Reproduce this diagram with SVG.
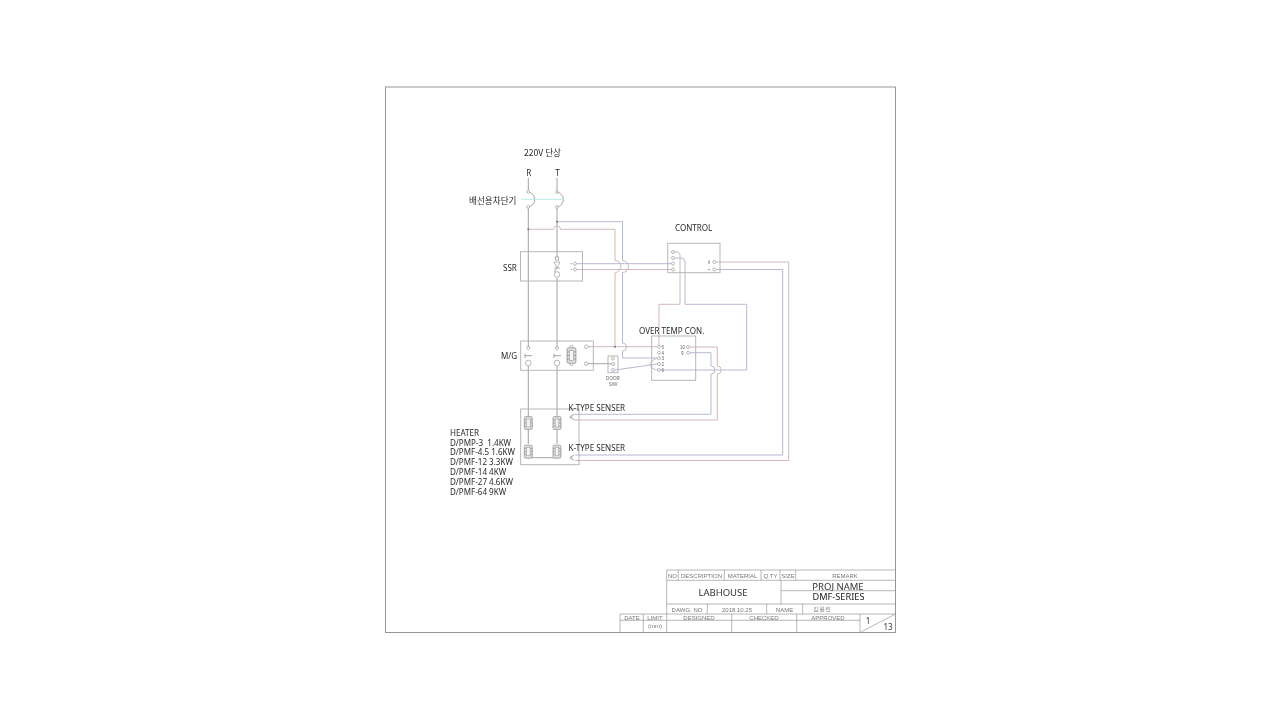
<svg xmlns="http://www.w3.org/2000/svg" width="1280" height="720" viewBox="0 0 1280 720">
<style>
text{font-family:"Noto Sans","Noto Sans CJK KR",sans-serif;fill:#2a2a2a;font-size:8.05px}
.k{font-family:"Noto Sans CJK KR","Noto Sans",sans-serif}
.box{fill:none;stroke:#b0b0b0;stroke-width:.9}
.w{fill:none;stroke:#999;stroke-width:.9}
.r{fill:none;stroke:#d0b0b0;stroke-width:.9}
.b{fill:none;stroke:#b0b0d0;stroke-width:.9}
.c{fill:none;stroke:#b4e6e2;stroke-width:.9}
.t{fill:#fff;stroke:#999;stroke-width:.7}
.tb{fill:none;stroke:#999;stroke-width:.7}
.s{font-size:6px;fill:#777;font-family:"Liberation Sans",sans-serif;text-anchor:middle}
.m{font-family:"Noto Sans",sans-serif;fill:#333;text-anchor:middle}
.n{font-size:4.6px;fill:#666;font-family:"Liberation Sans",sans-serif}
</style>
<defs>
<filter id="soft" filterUnits="userSpaceOnUse" x="0" y="0" width="1280" height="720"><feGaussianBlur stdDeviation="0.35"/></filter>
<g id="coil"><rect x="-4" y="-6.5" width="8" height="13" rx="1.5" fill="#ddd" stroke="#999" stroke-width=".8"/><path d="M-4-3h8M-4 0h8M-4 3h8" stroke="#888" stroke-width=".6" fill="none"/><rect x="-1.8" y="-4" width="3.6" height="8" fill="#f4f4f4" stroke="#999" stroke-width=".5"/></g>
</defs>
<rect width="1280" height="720" fill="#fff"/>
<g filter="url(#soft)">
<rect id="frame" x="385.5" y="87" width="510" height="545.5" fill="none" stroke="#8c8c8c" stroke-width=".9"/>
<g id="connectors">
<path class="w" d="M528.3 178V192A7.6 7.6 0 0 1 528.3 207V348M528.3 366V416M528.3 430V444M528.3 458V457.7H557"/>
<path class="w" d="M557 178V192A7.6 7.6 0 0 1 557 207V258M557 278V348M557 366V416M557 430V444"/>
<path class="c" d="M521 199.3H564"/>
<path class="r" d="M528.3 229.3H553.5A3.5 3.5 0 0 1 560.5 229.3H615V260.5A6 6 0 0 1 615 272.5V347"/>
<path class="b" d="M557 221.7H622.5V260.5A6 6 0 0 1 622.5 272.5V343A4 4 0 0 1 622.5 351V358H657"/>
<path class="b" d="M577 263.7H671"/>
<path class="r" d="M577 269.5H671"/>
<path class="r" d="M675 252H678L680 254V304.3H659V345"/>
<path class="b" d="M675 258H681Q685 258 685 262V304.3H746.7V370H661"/>
<path class="r" d="M716 262H788.7V460.5H575"/>
<path class="b" d="M716 269.5H782.7V455H575"/>
<path class="r" d="M588 346.7H657"/>
<path class="r" d="M690 347H717.3V366A4 4 0 0 1 717.3 374V420H574"/>
<path class="b" d="M690 352.7H711V366A4 4 0 0 1 711 374V414.3H574"/>
<path class="w" d="M588 363.7H611"/>
<path class="b" d="M615 370L657 364"/>
<path class="b" d="M657 358.3C648 361 648 368 657 370"/>
<circle cx="528.3" cy="229.3" r="1" fill="#777"/><circle cx="557" cy="221.7" r="1" fill="#777"/><circle cx="615" cy="346.7" r="1" fill="#777"/>
</g>
<g id="breaker"><circle class="t" cx="528.3" cy="192" r="1.4"/><circle class="t" cx="528.3" cy="207" r="1.4"/><circle class="t" cx="557" cy="192" r="1.4"/><circle class="t" cx="557" cy="207" r="1.4"/>
<text class="k" x="469" y="203.5" style="font-size:8.6px">배선용차단기</text></g>
<g id="supply"><text class="k" x="524" y="156" style="font-size:8.6px">220V 단상</text><text x="526.3" y="175.5">R</text><text x="555.3" y="175.5">T</text></g>
<g id="ssr"><rect class="box" x="520.5" y="251.7" width="62" height="29.3"/>
<rect class="t" x="555.3" y="257" width="3.4" height="3"/><path class="t" d="M554 262H560L557 268ZM554 268H560" fill="none"/><path class="w" d="M557 268Q554 271 555 272"/><circle class="t" cx="557" cy="274.5" r="2.8"/>
<circle class="t" cx="575" cy="263.7" r="1.5"/><circle class="t" cx="575" cy="269.5" r="1.5"/><path class="w" d="M570.5 263.7h1.5M570.5 269.5h1.5"/>
<text x="503" y="270.5">SSR</text></g>
<g id="control"><rect class="box" x="667.8" y="243.3" width="52.2" height="29.4"/>
<circle class="t" cx="673" cy="252" r="1.5"/><circle class="t" cx="673" cy="258" r="1.5"/><circle class="t" cx="673" cy="263.5" r="1.5"/><circle class="t" cx="673" cy="269.5" r="1.5"/><circle class="t" cx="714.3" cy="262" r="1.5"/><circle class="t" cx="714.3" cy="269.5" r="1.5"/>
<path class="w" d="M708 262.5h2M709 260v4M708 269.5h2"/>
<text x="675" y="230.5">CONTROL</text></g>
<g id="mg"><rect class="box" x="520.7" y="341" width="72.6" height="29.3"/>
<circle class="t" cx="528.3" cy="348" r="1.5"/><circle class="t" cx="557" cy="348" r="1.5"/><circle class="t" cx="528.3" cy="363" r="2.8"/><circle class="t" cx="557" cy="363" r="2.8"/>
<path class="w" d="M525 353.5V358M525 355.7H532M554 353.5V358M554 355.7H561"/>
<use href="#coil" transform="translate(571.5 355.5) scale(1.1 1.2)"/><circle class="t" cx="571.5" cy="346.5" r="1.3"/><circle class="t" cx="571.5" cy="364.5" r="1.3"/>
<circle class="t" cx="586.3" cy="346.7" r="1.8"/><circle class="t" cx="586.3" cy="363.7" r="1.8"/>
<text x="501" y="358.5">M/G</text></g>
<g id="door"><rect class="box" x="608" y="356" width="10" height="16.7"/>
<circle class="t" cx="613" cy="358.5" r="1.5"/><circle class="t" cx="613" cy="364" r="1.5"/><circle class="t" cx="613" cy="370" r="1.5"/>
<text class="n" x="613" y="379.5" text-anchor="middle">DOOR</text><text class="n" x="613" y="385.5" text-anchor="middle">S/W</text></g>
<g id="overtemp"><rect class="box" x="651.7" y="336" width="44" height="44.3"/>
<g><circle class="t" cx="659" cy="346.7" r="1.5"/><circle class="t" cx="659" cy="352.7" r="1.5"/><circle class="t" cx="659" cy="358.3" r="1.5"/><circle class="t" cx="659" cy="364" r="1.5"/><circle class="t" cx="659" cy="370" r="1.5"/><circle class="t" cx="688" cy="347" r="1.5"/><circle class="t" cx="688" cy="352.7" r="1.5"/></g>
<text class="n" x="661.5" y="348.5">5</text><text class="n" x="661.5" y="354.5">4</text><text class="n" x="661.5" y="360">3</text><text class="n" x="661.5" y="366">2</text><text class="n" x="661.5" y="372">6</text><text class="n" x="680" y="348.8">10</text><text class="n" x="681" y="354.5">9</text>
<text x="639" y="334">OVER TEMP CON.</text></g>
<g id="heater"><rect class="box" x="520.7" y="409" width="58.3" height="55.7"/>
<use href="#coil" transform="translate(528.3 423)"/><use href="#coil" transform="translate(557 423)"/><use href="#coil" transform="translate(528.3 451.7)"/><use href="#coil" transform="translate(557 451.7)"/>
<text x="450" y="435.5">HEATER</text><text x="450" y="445.5" xml:space="preserve">D/PMP-3  1.4KW</text><text x="450" y="455.2">D/PMF-4.5 1.6KW</text><text x="450" y="465.2">D/PMF-12 3.3KW</text><text x="450" y="475">D/PMF-14 4KW</text><text x="450" y="484.7">D/PMF-27 4.6KW</text><text x="450" y="494.7">D/PMF-64 9KW</text></g>
<g id="sensor1"><path class="w" d="M574 414.3L570 417L574 420"/><circle class="t" cx="571" cy="417" r="1"/><text x="568.5" y="410.5">K-TYPE SENSER</text></g>
<g id="sensor2"><path class="w" d="M574 455L570 457.7L574 460.5"/><circle class="t" cx="571" cy="457.7" r="1"/><text x="568.5" y="450.5">K-TYPE SENSER</text></g>
<g id="titleblock">
<path class="tb" d="M666.7 570H895.5M666.7 580.3H895.5M781 590.7H895.5M666.7 604H895.5M620 614H895.5M620 620.3H860M666.7 570V632.5M678.3 570V580.3M724.3 570V580.3M761 570V580.3M780 570V580.3M795.7 570V580.3M781 580.3V604M707.3 604V614M766.7 604V614M802.7 604V614M620 614V632.5M643.3 614V632.5M731.7 614V632.5M796.7 614V632.5M860 614V632.5M860 632.5L895.5 614"/>
<text class="s" x="672.5" y="578">NO</text><text class="s" x="701.5" y="578">DESCRIPTION</text><text class="s" x="742.5" y="578">MATERIAL</text><text class="s" x="770.5" y="578">Q.TY</text><text class="s" x="788" y="578">SIZE</text><text class="s" x="845" y="578">REMARK</text>
<text class="m" x="723" y="596" style="font-size:9.5px">LABHOUSE</text>
<text class="m" x="838" y="589.5" style="font-size:9.5px">PROJ NAME</text><text class="m" x="838.5" y="600" style="font-size:9.2px;fill:#222">DMF-SERIES</text>
<text class="s" x="687" y="611.5">DAWG. NO</text><text class="s" x="737" y="611.5">2018.10.25</text><text class="s" x="784.5" y="611.5">NAME</text><text class="s k" x="822" y="611">김원진</text>
<text class="s" x="632" y="619.5">DATE</text><text class="s" x="655" y="619.5">LIMIT</text><text class="s" x="699" y="619.5">DESIGNED</text><text class="s" x="764" y="619.5">CHECKED</text><text class="s" x="828" y="619.5">APPROVED</text><text class="s" x="655" y="627.5">(mm)</text>
<text class="m" x="868" y="623.5" style="font-size:8px">1</text><text class="m" x="888" y="630" style="font-size:8px">13</text>
</g>
</g>
</svg>
